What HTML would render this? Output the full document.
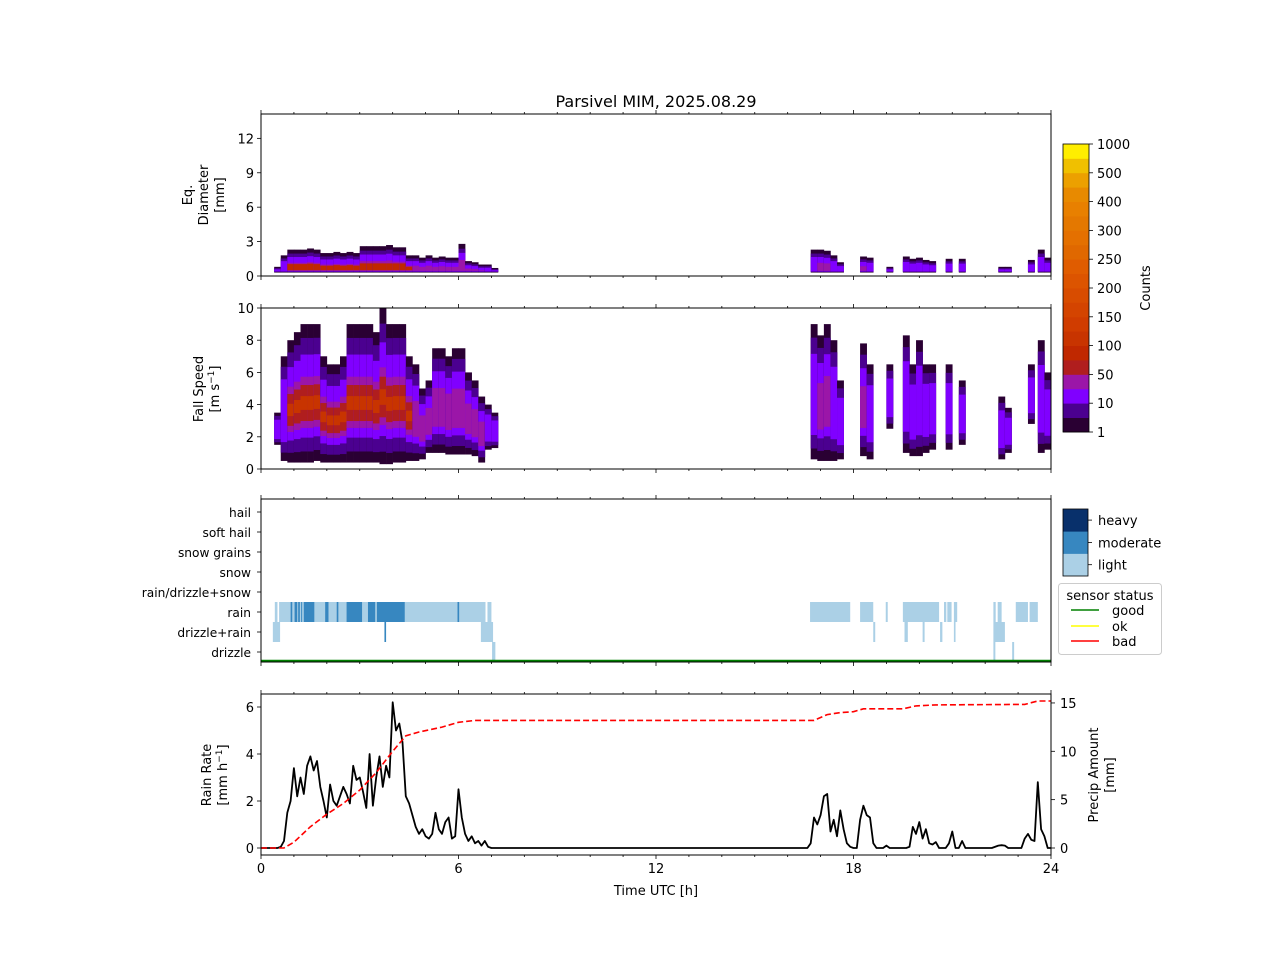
<!DOCTYPE html>
<html><head><meta charset="utf-8"><title>Parsivel MIM</title>
<style>
html,body{margin:0;padding:0;background:#fff;}
svg{display:block;font-family:"DejaVu Sans","Liberation Sans",sans-serif;}
</style></head>
<body>
<svg id="fig" width="1280" height="960" viewBox="0 0 1280 960" xmlns="http://www.w3.org/2000/svg">
<rect x="0" y="0" width="1280" height="960" fill="#fff"/>
<text x="656" y="107" font-size="16" text-anchor="middle">Parsivel MIM, 2025.08.29</text>
</svg>
<script>
// ---------- data ----------
const binT   = [0.4,0.6,0.8,1.0,1.2,1.4,1.6,1.8,2.0,2.2,2.4,2.6,2.8,3.0,3.2,3.4,3.6,3.8,4.0,4.2,4.4,4.6,4.8,5.0,5.2,5.4,5.6,5.8,6.0,6.2,6.4,6.6,6.8,7.0,
                16.7,16.9,17.1,17.3,17.5,18.2,18.4,19.0,19.5,19.7,19.9,20.1,20.3,20.8,21.2,22.4,22.6,23.3,23.6,23.8];
const vMin   = [1.5,0.5,0.4,0.4,0.4,0.4,0.5,0.4,0.4,0.4,0.4,0.4,0.4,0.4,0.4,0.4,0.3,0.3,0.4,0.4,0.5,0.5,0.6,1.0,1.0,1.0,0.9,0.9,0.9,0.9,0.8,0.4,1.2,1.3,
                0.6,0.5,0.5,0.5,0.6,0.8,0.6,2.5,1.0,0.8,0.8,1.0,1.2,1.2,1.5,0.6,1.0,2.8,1.0,1.2];
const vMax   = [3.5,7.0,8.0,8.5,9.0,9.0,9.0,7.0,6.5,6.5,7.0,9.0,9.0,9.0,9.0,8.5,10.0,9.0,9.0,9.0,7.0,6.5,5.0,5.5,7.5,7.5,7.0,7.5,7.5,6.0,5.5,4.5,4.0,3.5,
                9.0,8.3,9.0,8.0,5.5,7.8,6.5,6.5,8.3,6.5,8.0,6.5,6.5,6.5,5.5,4.5,3.8,6.5,8.0,6.0];
const level  = [1,2,4,4,4,4,4,4,4,4,4,4,4,4,4,4,4,4,4,4,4,3,3,3,3,3,3,3,3,3,3,3,2,1,
                2,3,3,2,2,3,2,1,2,2,2,2,2,2,2,2,2,2,2,2];
const dMax   = [0.8,1.8,2.3,2.3,2.3,2.4,2.3,2.0,2.0,2.1,2.0,2.1,2.0,2.6,2.6,2.6,2.6,2.7,2.5,2.5,1.8,1.8,1.6,1.8,1.6,1.7,1.6,1.6,2.8,1.3,1.2,1.0,1.0,0.7,
                2.3,2.3,2.2,1.8,1.2,1.7,1.6,0.8,1.7,1.5,1.6,1.4,1.3,1.5,1.5,0.8,0.8,1.4,2.3,1.6];
const ptRow   = [2,2,2,2,2,2,2,2,2,2,2,2,2,2,2, 1,1,1,1, 0,
                 2,2,2,2,2,2,2,2,2,2,2, 1,1,1,1,1,1,1, 0,0];
const ptStart = [0.42,0.55,0.9,1.02,1.13,1.3,1.95,2.3,2.6,3.25,3.52,5.97,6.88, 1.22,4.37, 0.36,3.75,6.68,0.55, 7.02,
                 16.68,18.2,18.98,19.5,20.75,20.85,21.05,22.25,22.38,22.93,23.35, 18.6,19.55,20.1,20.63,21.05,22.25,22.42, 22.25,22.82];
const ptEnd   = [0.5,6.82,0.95,1.1,1.18,1.62,2.05,2.35,3.07,3.47,4.37,6.02,7.0, 1.25,4.42, 0.58,3.8,7.05,0.57, 7.12,
                 17.9,18.6,19.04,20.6,20.82,20.98,21.15,22.32,22.5,23.3,23.6, 18.66,19.65,20.16,20.7,21.1,22.6,22.52, 22.31,22.88];
const ptInt   = [1,1,2,2,2,2,2,2,2,2,2,2,1, 2,1, 1,2,1,1, 1,
                 1,1,1,1,1,1,1,1,1,1,1, 1,1,1,1,1,1,1, 1,1];
const ptLabels = ["drizzle","drizzle+rain","rain","rain/drizzle+snow","snow","snow grains","soft hail","hail"];
const rrT1 = [0,0.5,0.6,0.7,0.8,0.9,1.0,1.1,1.2,1.3,1.4,1.5,1.6,1.7,1.8,1.9,2.0,2.1,2.2,2.3,2.4,2.5,2.6,2.7,2.8,2.9,3.0,3.1,3.2,3.3,3.4,3.5,3.6,3.7,3.8,3.9,4.0,4.1,4.2,4.3,4.4,4.5,4.6,4.7,4.8,4.9,5.0,5.1,5.2,5.3,5.4,5.5,5.6,5.7,5.8,5.9,6.0,6.1,6.2,6.3,6.4,6.5,6.6,6.7,6.8,6.9,7.0,7.1];
const rrV1 = [0,0,0.05,0.3,1.5,2.0,3.4,2.2,3.0,2.3,3.5,3.9,3.3,3.7,2.6,2.0,1.3,2.7,2.0,1.8,2.2,2.6,2.3,1.9,3.5,2.9,3.0,2.4,1.7,4.0,1.8,3.0,3.9,2.6,3.5,3.0,6.2,5.0,5.3,4.5,2.2,1.9,1.4,0.9,0.6,0.8,0.5,0.4,0.6,1.5,0.8,0.6,1.1,1.3,0.4,0.5,2.5,1.3,0.6,0.3,0.5,0.2,0.3,0.1,0.3,0.05,0,0];
const rrT2 = [16.5,16.6,16.7,16.8,16.9,17.0,17.1,17.2,17.3,17.4,17.5,17.6,17.7,17.8,17.9,18.0,18.1,18.2,18.3,18.4,18.5,18.6,18.7,18.9,19.0,19.1,19.6,19.7,19.8,19.9,20.0,20.1,20.2,20.3,20.4,20.5,20.6,20.8,20.9,21.0,21.1,21.2,21.3,21.4,22.2,22.4,22.5,22.6,22.7,23.1,23.2,23.3,23.4,23.5,23.6,23.7,23.8,23.9,24.0];
const rrV2 = [0,0,0.2,1.3,1.0,1.4,2.2,2.3,0.7,1.2,0.5,1.6,0.8,0.2,0.05,0,0,1.2,1.8,1.4,1.3,0.2,0,0,0.1,0,0,0.05,0.9,0.6,1.1,0.4,0.8,0.2,0.15,0.25,0,0,0.2,0.7,0,0,0.3,0,0,0.1,0.12,0.1,0,0,0.4,0.6,0.35,0.3,2.8,0.8,0.5,0,0];
const paT = [0,0.7,1.0,1.5,2.0,2.5,3.0,3.5,4.0,4.4,4.8,5.5,6.0,6.5,16.8,17.2,17.6,18.0,18.3,19.5,19.9,20.5,23.2,23.6,24];
const paV = [0,0,0.6,2.2,3.5,4.6,6.0,7.8,10.0,11.6,12.0,12.5,13.0,13.2,13.2,13.8,14.0,14.1,14.4,14.4,14.7,14.8,14.85,15.2,15.2];
const cbColors = ["#2a0033","#4b0090","#8000ff","#9b16a8","#b01e1e","#c02800","#c83400","#d03c00","#d44400","#d84c00","#dc5400","#e05c00","#e06800","#e47000","#e47800","#e88000","#e88a00","#eca000","#f0c000","#ffee00"];
const cbTicks = ["1","10","50","100","150","200","250","300","400","500","1000"];
const xTicks = [0,6,12,18,24];
const d1Ticks = [0,3,6,9,12];
const v2Ticks = [0,2,4,6,8,10];
const rrTicks = [0,2,4,6];
const paTicks = [0,5,10,15];

const NS="http://www.w3.org/2000/svg";
const svg=document.getElementById('fig');
const X0=261,X1=1051;
const X=h=>X0+h*(X1-X0)/24;
const Y1=d=>276-d*11.47;
const Y2=v=>469-v*16.1;
const Y4=r=>848-r*23.5;
const Y4R=p=>848-p*9.67;
const rowY=i=>652-20*i;
function el(tag,attrs,parent){const e=document.createElementNS(NS,tag);for(const k in attrs)e.setAttribute(k,attrs[k]);(parent||svg).appendChild(e);return e;}
function txt(s,attrs,parent){const e=el('text',attrs,parent);e.textContent=s;return e;}
function grp(name){const g=el('g',{});return g;}

function frame(name,top,bot,labelX){
  const g=grp(name);
  for(let h=0;h<=24;h++){
    const major=h%6===0;const L=major?4:2;
    el('line',{x1:X(h),x2:X(h),y1:top,y2:top-L,stroke:'#000','stroke-width':0.8},g);
    el('line',{x1:X(h),x2:X(h),y1:bot,y2:bot+L,stroke:'#000','stroke-width':0.8},g);
  }
  if(labelX){
    xTicks.forEach(t=>{const e=txt(String(t),{x:X(t),y:bot+18,'font-size':13,'text-anchor':'middle'},g);
      });
  }
  return g;
}
function spine(g,top,bot){el('rect',{x:X0,y:top,width:X1-X0,height:bot-top,fill:'none',stroke:'#000','stroke-width':1},g);}

const p1=frame('diameter-panel',114,276,false);
const h1=grp('diameter-heatmap');p1.appendChild(h1);
binT.forEach((t,i)=>{
  const x=X(t),w=X(t+0.2)-X(t)+0.3;const d=dMax[i],lo=0.3;
  const layers=[[lo,d,cbColors[0]],[lo+0.05,d*0.85,cbColors[1]],[lo+0.1,d*0.72,cbColors[2]]];
  if(level[i]>=3)layers.push([lo+0.15,d*0.5,cbColors[3]]);
  if(level[i]>=4)layers.push([lo+0.2,Math.min(1.1,d*0.45),cbColors[5]]);
  layers.forEach(L=>{if(L[1]>L[0]){const r=el('rect',{x:x,y:Y1(L[1]),width:w,height:Y1(L[0])-Y1(L[1]),fill:L[2]},h1);
    }});
});
spine(p1,114,276);
d1Ticks.forEach(t=>{el('line',{x1:X0,x2:X0-4,y1:Y1(t),y2:Y1(t),stroke:'#000','stroke-width':0.8},p1);
  const e=txt(String(t),{x:X0-7,y:Y1(t)+5,'font-size':13,'text-anchor':'end'},p1);});
{const e=txt('',{transform:'translate(223,195) rotate(-90)','font-size':13,'text-anchor':'middle'},p1);
 
 [['Eq.',-31],['Diameter',-15],['[mm]',1]].forEach(a=>{const s=el('tspan',{x:0,y:a[1]},e);s.textContent=a[0];});}

const p2=frame('fall-speed-panel',308,469,false);
const h2=grp('fall-speed-heatmap');p2.appendChild(h2);
binT.forEach((t,i)=>{
  const x=X(t),w=X(t+0.2)-X(t)+0.3;const a=vMin[i],b=vMax[i],r=b-a;
  const layers=[[a,b,cbColors[0]],[a+0.08*r,b-0.1*r,cbColors[1]],[a+0.18*r,b-0.22*r,cbColors[2]]];
  if(level[i]>=3)layers.push([a+0.25*r,a+0.62*r,cbColors[3]]);
  if(level[i]>=4)layers.push([a+0.3*r,a+0.56*r,cbColors[4]]);
  if(level[i]>=4)layers.push([a+0.38*r,a+0.48*r,cbColors[6]]);
  layers.forEach(L=>{const rc=el('rect',{x:x,y:Y2(L[1]),width:w,height:Y2(L[0])-Y2(L[1]),fill:L[2]},h2);
    });
});
spine(p2,308,469);
v2Ticks.forEach(t=>{el('line',{x1:X0,x2:X0-4,y1:Y2(t),y2:Y2(t),stroke:'#000','stroke-width':0.8},p2);
  const e=txt(String(t),{x:X0-7,y:Y2(t)+5,'font-size':13,'text-anchor':'end'},p2);});
{const e=txt('',{transform:'translate(208,389) rotate(-90)','font-size':13,'text-anchor':'middle'},p2);
 
 const s1=el('tspan',{x:0,y:-5},e);s1.textContent='Fall Speed';
 const s2=el('tspan',{x:0,y:11},e);s2.textContent='[m s';const s3=el('tspan',{dy:-5,'font-size':9},e);s3.textContent='−1';const s4=el('tspan',{dy:5},e);s4.textContent=']';}

const p3=frame('precip-type-panel',499,662,false);
const h3=grp('precip-type-bars');p3.appendChild(h3);
const ptCol=["#abd0e6","#3787c0","#08306b"];
ptRow.forEach((r,i)=>{const rc=el('rect',{x:X(ptStart[i]),y:rowY(r)-10,width:X(ptEnd[i])-X(ptStart[i]),height:20,fill:ptCol[ptInt[i]-1]},h3);
  });
{const l=el('line',{x1:X0,x2:X1,y1:661,y2:661,stroke:'#008000','stroke-width':2.5},p3);}
spine(p3,499,662);
ptLabels.forEach((l,i)=>{el('line',{x1:X0,x2:X0-4,y1:rowY(i),y2:rowY(i),stroke:'#000','stroke-width':0.8},p3);
  const e=txt(l,{x:X0-10,y:rowY(i)+5,'font-size':12.2,'text-anchor':'end'},p3);});

const p4=frame('rain-rate-panel',694,855,true);
function path(T,V,fy){return T.map((t,i)=>(i?'L':'M')+X(t).toFixed(1)+','+fy(V[i]).toFixed(1)).join('');}
const rrLine=el('path',{d:path(rrT1,rrV1,Y4)+'L'+X(7.1)+','+Y4(0)+'L'+X(16.5)+','+Y4(0)+path(rrT2,rrV2,Y4).replace(/^M/,'L'),fill:'none',stroke:'#000','stroke-width':1.8,'stroke-linejoin':'round'},p4);

const paLine=el('path',{d:path(paT,paV,Y4R),fill:'none',stroke:'#ff0000','stroke-width':1.6,'stroke-dasharray':'6,3'},p4);

spine(p4,694,855);
rrTicks.forEach(t=>{el('line',{x1:X0,x2:X0-4,y1:Y4(t),y2:Y4(t),stroke:'#000','stroke-width':0.8},p4);
  const e=txt(String(t),{x:X0-7,y:Y4(t)+5,'font-size':13,'text-anchor':'end'},p4);});
paTicks.forEach(t=>{el('line',{x1:X1,x2:X1+4,y1:Y4R(t),y2:Y4R(t),stroke:'#000','stroke-width':0.8},p4);
  const e=txt(String(t),{x:X1+9,y:Y4R(t)+5,'font-size':13,'text-anchor':'start'},p4);});
{const e=txt('',{transform:'translate(218,775) rotate(-90)','font-size':13,'text-anchor':'middle'},p4);
 
 const s1=el('tspan',{x:0,y:-7},e);s1.textContent='Rain Rate';
 const s2=el('tspan',{x:0,y:9},e);s2.textContent='[mm h';const s3=el('tspan',{dy:-5,'font-size':9},e);s3.textContent='−1';const s4=el('tspan',{dy:5},e);s4.textContent=']';}
{const e=txt('',{transform:'translate(1098,775) rotate(-90)','font-size':13,'text-anchor':'middle'},p4);
 
 const s1=el('tspan',{x:0,y:0},e);s1.textContent='Precip Amount';
 const s2=el('tspan',{x:0,y:16},e);s2.textContent='[mm]';}
{const e=txt('Time UTC [h]',{x:656,y:895,'font-size':13,'text-anchor':'middle'},p4);}

const cb=grp('counts-colorbar');
const cbTop=144,cbBot=432,cbH=(cbBot-cbTop)/cbColors.length;
cbColors.forEach((c,i)=>{const r=el('rect',{x:1063,y:cbBot-(i+1)*cbH,width:26,height:cbH+0.4,fill:c},cb);});
el('rect',{x:1063,y:cbTop,width:26,height:cbBot-cbTop,fill:'none',stroke:'#000','stroke-width':0.8},cb);
cbTicks.forEach((t,i)=>{const y=cbBot-i*(cbBot-cbTop)/(cbTicks.length-1);
  el('line',{x1:1089,x2:1093,y1:y,y2:y,stroke:'#000','stroke-width':0.8},cb);
  const e=txt(t,{x:1097,y:y+5,'font-size':13},cb);});
{const e=txt('Counts',{transform:'translate(1150,288) rotate(-90)','font-size':13,'text-anchor':'middle'},cb);}

const il=grp('intensity-legend');
const ilNames=['light','moderate','heavy'];
[0,1,2].forEach(i=>{const y0=576-(i+1)*22.3;
  const r=el('rect',{x:1063,y:y0,width:25,height:22.5,fill:ptCol[i]},il);
  el('line',{x1:1088,x2:1092,y1:y0+11,y2:y0+11,stroke:'#000','stroke-width':0.8},il);
  const e=txt(ilNames[i],{x:1098,y:y0+16,'font-size':13},il);});
el('rect',{x:1063,y:509,width:25,height:67,fill:'none',stroke:'#000','stroke-width':0.8},il);

const sl=grp('sensor-status-legend');
el('rect',{x:1058.5,y:583.5,width:103,height:71,rx:3,fill:'#fff',stroke:'#ccc','stroke-width':1},sl);
{const e=txt('sensor status',{x:1110,y:600,'font-size':13,'text-anchor':'middle'},sl);}
[['good','#008000',610],['ok','#ffff00',626],['bad','#ff0000',641]].forEach(a=>{
  const l=el('line',{x1:1071,x2:1099,y1:a[2],y2:a[2],stroke:a[1],'stroke-width':1.6},sl);
  const e=txt(a[0],{x:1112,y:a[2]+5,'font-size':13},sl);});
</script>
</body></html>
